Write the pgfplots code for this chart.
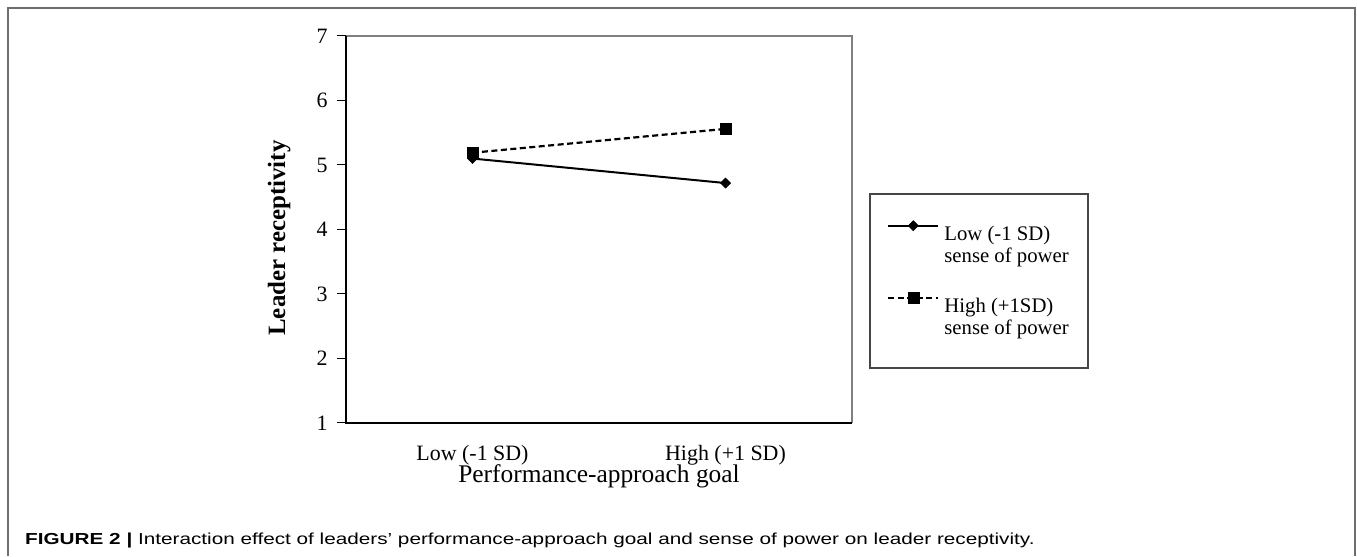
\documentclass[border=0pt]{standalone}
\usepackage{pgfplots}
\pgfplotsset{compat=1.18}
\usepackage{fontspec}
\setmainfont{Liberation Serif}
\newfontfamily\capfont[FakeStretch=1.3]{Liberation Sans}
\definecolor{framegray}{RGB}{110,110,110}
\definecolor{boxgray}{RGB}{128,128,128}
\definecolor{leggray}{RGB}{70,70,70}
\begin{document}
\begin{tikzpicture}
\path (0bp,0bp) rectangle (1357bp,556bp);
\draw[framegray, line width=1.5bp] (8bp,0bp) -- (8bp,548bp) -- (1355bp,548bp) -- (1355bp,0bp);
\begin{axis}[
  at={(346bp,133bp)}, anchor=south west,
  width=506bp, height=387bp, scale only axis,
  xmin=-0.5, xmax=1.5, ymin=1, ymax=7,
  xtick={0,1}, xticklabels={Low (-1 SD), High (+1 SD)},
  ytick={1,2,3,4,5,6,7},
  axis line style={draw=none},
  ytick pos=left, tick align=outside,
  major tick length=9bp,
  x tick style={draw=none},
  y tick style={black, line width=1bp},
  clip=false,
  /pgf/number format/assume math mode=true,
  every tick label/.append style={font=\fontsize{22}{26}\selectfont},
  xticklabel style={anchor=base, yshift=-28bp},
  yticklabel style={anchor=east, xshift=-6bp},
  xlabel={Performance-approach goal},
  xlabel style={at={(axis description cs:0.5,0)}, anchor=base, yshift=-59bp, font=\fontsize{25.5}{28}\selectfont},
  ylabel={Leader receptivity},
  ylabel style={at={(axis description cs:-0.132,0.478)}, anchor=center, font=\bfseries\fontsize{25}{28}\selectfont},
  legend style={at={(1.0356,0.5917)}, anchor=north west, draw=none, fill=none,
    inner xsep=17bp, inner ysep=26bp, row sep=44bp, column sep=5bp,
    font=\fontsize{20.8}{21.5}\selectfont, nodes={inner sep=0pt}},
  legend cell align=left,
  legend image code/.code={%
    \path[draw=none,fill=none] (0bp,-14bp) rectangle (50bp,14bp);
    \draw[mark repeat=2,mark phase=2,#1] plot coordinates {(0bp,8.5bp) (25bp,8.5bp) (50bp,8.5bp)};},
]
\draw[boxgray, line width=1.8bp] (rel axis cs:0,1) -- (rel axis cs:1,1) -- (rel axis cs:1,0);
\draw[black, line width=1.8bp] (rel axis cs:0,1) -- (rel axis cs:0,0) -- (rel axis cs:1,0);
\draw[leggray, line width=1.2bp] (rel axis cs:1.0356,0.5917) rectangle (rel axis cs:1.4664,0.1421);
\addplot[black, line width=2bp, mark=square*, mark size=3.6bp, mark options={solid, rotate=45, line width=0.5bp}] coordinates {(0,5.10) (1,4.72)};
\addlegendentry{\begin{tabular}[t]{@{}l@{}}Low (-1 SD)\\sense of power\end{tabular}}
\addplot[black, line width=2.2bp, dash pattern=on 6bp off 3.5bp, mark=square*, mark size=5.5bp, mark options={solid, line width=0.5bp}] coordinates {(0,5.19) (1,5.56)};
\addlegendentry{\begin{tabular}[t]{@{}l@{}}High (+1SD)\\sense of power\end{tabular}}
\end{axis}
\node[anchor=west, inner sep=0pt] at (25bp,16bp) {\capfont\fontsize{16}{19}\selectfont\textbf{FIGURE 2 |} Interaction effect of leaders’ performance-approach goal and sense of power on leader receptivity.};
\end{tikzpicture}
\end{document}
